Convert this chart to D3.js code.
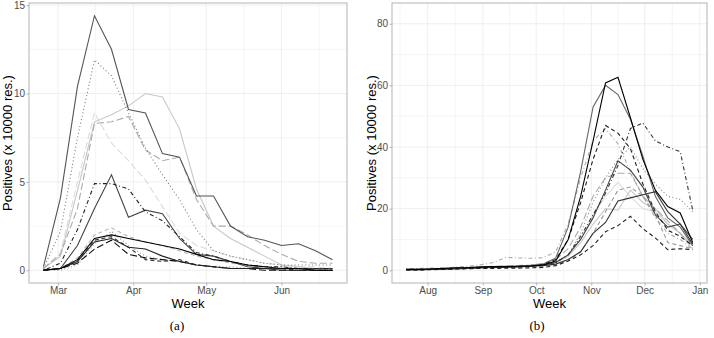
<!DOCTYPE html>
<html>
<head>
<meta charset="utf-8">
<script src="https://cdn.jsdelivr.net/npm/d3@7"></script>
<style>
  body { margin: 0; background: #fff; }
  svg { display: block; }
  .tick text { font-family: "Liberation Sans", Arial, sans-serif; font-size: 10px; fill: #4d4d4d; }
  .axis-title { font-family: "Liberation Sans", Arial, sans-serif; font-size: 13px; fill: #000; }
  .caption { font-family: "Liberation Serif", "DejaVu Serif", serif; font-size: 13px; font-weight: normal; fill: #000; }
</style>
</head>
<body>
<svg width="714" height="338"></svg>
<script>
// ---- data: panel (a), first wave ----
const weeksA = ['2020-02-24','2020-03-02','2020-03-09','2020-03-16','2020-03-23','2020-03-30',
  '2020-04-06','2020-04-13','2020-04-20','2020-04-27','2020-05-04','2020-05-11','2020-05-18',
  '2020-05-25','2020-06-01','2020-06-08','2020-06-15','2020-06-22'];
const monthTicksA = ['2020-03-01','2020-04-01','2020-05-01','2020-06-01'];
const yTicksA = [0, 5, 10, 15];

const a1 = [0.2, 4.1, 10.4, 14.4, 12.5, 9.1, 8.9, 6.6, 6.4, 4.2, 4.2, 2.5, 1.9, 1.7, 1.4, 1.5, 1.1, 0.6];
const a2 = [0.1, 2.2, 7.5, 11.9, 11.0, 8.9, 6.9, 5.4, 4.0, 2.3, 1.1, 0.8, 0.6, 0.4, 0.3, 0.3, 0.3, 0.3];
const a3 = [0.1, 0.8, 4.5, 8.4, 8.8, 9.3, 10.0, 9.8, 8.0, 4.6, 2.5, 1.8, 1.3, 0.8, 0.3, 0.2, 0.1, 0.1];
const a4 = [0.1, 0.9, 3.5, 8.3, 8.4, 8.7, 6.8, 6.2, 6.4, 4.0, 2.5, 2.5, 2.0, 1.4, 0.9, 0.5, 0.4, 0.4];
const a5 = [0.1, 1.0, 5.0, 8.9, 7.2, 6.2, 5.1, 3.6, 2.1, 1.4, 1.1, 0.8, 0.6, 0.4, 0.3, 0.2, 0.2, 0.1];
const a6 = [0.0, 0.1, 1.4, 3.5, 5.4, 3.0, 3.4, 3.2, 1.8, 0.9, 0.8, 0.5, 0.2, 0.1, 0.1, 0.1, 0.1, 0.1];
const a7 = [0.0, 0.4, 2.3, 4.9, 4.9, 4.6, 3.3, 2.8, 1.9, 1.0, 0.8, 0.5, 0.3, 0.2, 0.2, 0.1, 0.1, 0.1];
const a8 = [0.0, 0.1, 0.7, 2.0, 2.4, 1.9, 1.6, 1.4, 1.1, 0.8, 0.6, 0.4, 0.3, 0.2, 0.2, 0.1, 0.1, 0.1];
const a9 = [0.0, 0.1, 0.6, 1.8, 2.0, 1.8, 1.6, 1.4, 1.2, 0.9, 0.6, 0.5, 0.3, 0.2, 0.1, 0.1, 0.0, 0.0];
const a10 = [0.0, 0.1, 0.5, 1.6, 1.8, 1.3, 1.2, 0.8, 0.5, 0.3, 0.2, 0.1, 0.1, 0.1, 0.0, 0.0, 0.0, 0.0];
const a11 = [0.0, 0.1, 0.4, 1.2, 1.7, 0.9, 0.7, 0.6, 0.5, 0.3, 0.2, 0.1, 0.1, 0.0, 0.0, 0.0, 0.0, 0.0];
const a12 = [0.0, 0.0, 0.3, 1.5, 2.2, 1.4, 0.8, 0.6, 0.5, 0.3, 0.2, 0.2, 0.1, 0.1, 0.1, 0.0, 0.0, 0.0];
const a13 = [0.0, 0.1, 0.5, 1.7, 1.9, 1.3, 0.6, 0.5, 0.6, 0.3, 0.2, 0.1, 0.1, 0.1, 0.1, 0.0, 0.0, 0.0];

// ---- data: panel (b), second wave ----
const weeksB = ['2020-07-20','2020-07-27','2020-08-03','2020-08-10','2020-08-17','2020-08-24',
  '2020-08-31','2020-09-07','2020-09-14','2020-09-21','2020-09-28','2020-10-05','2020-10-12',
  '2020-10-19','2020-10-26','2020-11-02','2020-11-09','2020-11-16','2020-11-23','2020-11-30',
  '2020-12-07','2020-12-14','2020-12-21','2020-12-28'];
const monthTicksB = ['2020-08-01','2020-09-01','2020-10-01','2020-11-01','2020-12-01','2021-01-01'];
const yTicksB = [0, 20, 40, 60, 80];
const yMaxB = 82.6;

const b1 = [0.3,0.3,0.4,0.6,0.8,0.9,1.1,1.2,1.2,1.3,1.4,1.7,3.0,10,24,42,60.8,62.6,49.5,36,26,20.7,18.6,9];
const b2 = [0.2,0.3,0.4,0.5,0.7,0.9,1.0,1.2,1.3,1.4,1.6,2.0,4.0,14,32,53,60,57,49,37,24,17,14,8];
const b3 = [0.2,0.2,0.3,0.4,0.6,0.7,0.9,1.0,1.1,1.2,1.4,1.8,3.5,10,22,36,47,44.5,39.5,28,19,13,11,8];
const b4 = [0.3,0.3,0.4,0.5,0.6,0.8,0.9,1.0,1.2,1.3,1.5,1.8,2.5,5,11,18,25,34,46,47.8,42,40,38.5,19.5];
const b5 = [0.5,0.6,0.7,0.8,1.0,1.3,1.8,2.5,4.2,4.0,3.9,4.1,6.0,15,30,42,46,41,32,24,17,12,10,7];
const b6 = [0.2,0.3,0.3,0.4,0.5,0.6,0.7,0.9,1.0,1.1,1.3,1.6,2.5,5,12,22,30,36,40,33,28,24,23,19];
const b7 = [0.2,0.2,0.3,0.4,0.5,0.7,0.8,1.0,1.1,1.2,1.4,1.7,2.5,5,10,17,26,35.5,32.5,27,18,14,15,10];
const b8 = [0.2,0.2,0.3,0.4,0.5,0.6,0.8,0.9,1.0,1.1,1.3,1.5,2.0,3.5,6,12,15.5,22.5,23.5,24.5,25.5,19,15,8.5];
const b9 = [0.1,0.1,0.2,0.3,0.4,0.5,0.6,0.6,0.7,0.7,0.8,0.9,1.5,3,5,8,12.5,14.5,17.5,13.5,10.5,6.7,7,6.7];
const b10 = [0.3,0.3,0.4,0.5,0.6,0.8,1.0,1.1,1.2,1.3,1.5,1.9,2.5,4.5,9,15,20,19.5,26,22,20,15,12,8];
const b11 = [0.3,0.3,0.4,0.5,0.7,0.9,1.1,1.3,1.4,1.5,1.7,2.2,3.5,7,14,24,30,31.5,31.5,24,20,16,12,7];
const b12 = [0.2,0.2,0.3,0.4,0.5,0.6,0.7,0.8,0.9,1.0,1.1,1.3,1.8,3,6,12,19,26,27,24,18,9,8,7];
const b13 = [0.3,0.3,0.4,0.5,0.6,0.7,0.9,1.0,1.1,1.3,1.5,1.8,2.5,5,10,18,24,28.5,24,20,19,15,12,8];

// line looks, in drawing order
const dash = { solid: null, dashed: '4,3', dotted: '1,2.5', dotdash: '1,2.5,4,2.5', longdash: '7,3', twodash: '2,2,6,2' };

const seriesA = [
  { v: a5, c: '#dcdcdc', t: 'longdash' }, { v: a3, c: '#c8c8c8', t: 'solid' },
  { v: a4, c: '#ababab', t: 'longdash' }, { v: a8, c: '#b5b5b5', t: 'dashed' },
  { v: a12, c: '#999999', t: 'dotted' }, { v: a2, c: '#777777', t: 'dotted' },
  { v: a1, c: '#555555', t: 'solid' }, { v: a6, c: '#444444', t: 'solid' },
  { v: a7, c: '#222222', t: 'dotdash' }, { v: a13, c: '#333333', t: 'dashed' },
  { v: a11, c: '#111111', t: 'longdash' }, { v: a10, c: '#222222', t: 'solid' },
  { v: a9, c: '#000000', t: 'solid' }
];
const seriesB = [
  { v: b13, c: '#dddddd', t: 'solid' }, { v: b10, c: '#c8c8c8', t: 'solid' },
  { v: b5, c: '#aaaaaa', t: 'dotdash' }, { v: b11, c: '#ababab', t: 'longdash' },
  { v: b12, c: '#999999', t: 'dashed' }, { v: b6, c: '#888888', t: 'dotted' },
  { v: b2, c: '#666666', t: 'solid' }, { v: b7, c: '#444444', t: 'solid' },
  { v: b8, c: '#333333', t: 'solid' }, { v: b4, c: '#333333', t: 'dotdash' },
  { v: b9, c: '#222222', t: 'dashed' }, { v: b3, c: '#1a1a1a', t: 'dashed' },
  { v: b1, c: '#000000', t: 'solid' }
];

function whenLoaded(){

  const svg = d3.select('svg');
  const parse = d3.timeParse('%Y-%m-%d');

  const drawPanel = (box, weeks, series, monthTicks, yTicks, yMax, caption) => {
    const dates = weeks.map(parse);
    const innerWidth = box.x1 - box.x0;
    const innerHeight = box.y1 - box.y0;

    // ggplot style 5% expansion
    const xExt = d3.extent(dates);
    const xPad = (xExt[1] - xExt[0]) * 0.05;
    const xScale = d3.scaleTime()
      .domain([new Date(+xExt[0] - xPad), new Date(+xExt[1] + xPad)])
      .range([0, innerWidth]);

    const yTop = yMax != null ? yMax : d3.max(series, s => d3.max(s.v));
    const yScale = d3.scaleLinear()
      .domain([-0.05 * yTop, yTop * 1.05])
      .range([innerHeight, 0]);

    const g = svg.append('g')
      .attr('transform', `translate(${box.x0},${box.y0})`);

    // minor grid
    const mt = monthTicks.map(parse);
    const xMinor = [];
    for (let i = 0; i < mt.length - 1; i++) xMinor.push(new Date((+mt[i] + +mt[i + 1]) / 2));
    xMinor.unshift(new Date(+mt[0] - (mt[1] - mt[0]) / 2));
    xMinor.push(new Date(+mt[mt.length - 1] + (mt[1] - mt[0]) / 2));
    const yStep = yTicks[1] - yTicks[0];
    const yMinor = yTicks.map(t => t + yStep / 2);

    const grid = g.append('g').attr('stroke', '#ebebeb');
    grid.selectAll('.vminor').data(xMinor.filter(d => xScale(d) > 0 && xScale(d) < innerWidth))
      .enter().append('line')
      .attr('x1', d => xScale(d)).attr('x2', d => xScale(d))
      .attr('y1', 0).attr('y2', innerHeight).attr('stroke-width', 0.5);
    grid.selectAll('.hminor').data(yMinor.filter(d => yScale(d) > 0))
      .enter().append('line')
      .attr('y1', d => yScale(d)).attr('y2', d => yScale(d))
      .attr('x1', 0).attr('x2', innerWidth).attr('stroke-width', 0.5);
    grid.selectAll('.vmajor').data(mt)
      .enter().append('line')
      .attr('x1', d => xScale(d)).attr('x2', d => xScale(d))
      .attr('y1', 0).attr('y2', innerHeight).attr('stroke-width', 0.8);
    grid.selectAll('.hmajor').data(yTicks)
      .enter().append('line')
      .attr('y1', d => yScale(d)).attr('y2', d => yScale(d))
      .attr('x1', 0).attr('x2', innerWidth).attr('stroke-width', 0.8);

    // lines
    const line = d3.line()
      .x((d, i) => xScale(dates[i]))
      .y(d => yScale(d));

    g.selectAll('path.series').data(series)
      .enter()
      .append('path')
      .attr('class', 'series')
      .attr('d', s => line(s.v))
      .attr('fill', 'none')
      .attr('stroke', s => s.c)
      .attr('stroke-width', 1.1)
      .attr('stroke-dasharray', s => dash[s.t]);

    // border
    g.append('rect')
      .attr('width', innerWidth).attr('height', innerHeight)
      .attr('fill', 'none').attr('stroke', '#b3b3b3').attr('stroke-width', 1);

    // axes
    const monthFmt = d3.timeFormat('%b');
    const xAxis = d3.axisBottom(xScale).tickValues(mt).tickFormat(monthFmt)
      .tickSize(2.5).tickPadding(1.5);
    const xAxisG = g.append('g').call(xAxis)
      .attr('transform', `translate(0,${innerHeight})`);
    xAxisG.selectAll('.domain').remove();
    xAxisG.selectAll('.tick line').attr('stroke', '#b3b3b3');

    const yAxis = d3.axisLeft(yScale).tickValues(yTicks).tickSize(2.5).tickPadding(1.5);
    const yAxisG = g.append('g').call(yAxis);
    yAxisG.selectAll('.domain').remove();
    yAxisG.selectAll('.tick line').attr('stroke', '#b3b3b3');

    g.append('text')
      .attr('class', 'axis-title')
      .attr('x', innerWidth / 2)
      .attr('y', innerHeight + 25)
      .attr('text-anchor', 'middle')
      .text('Week');

    g.append('text')
      .attr('class', 'axis-title')
      .attr('transform', `translate(${box.yTitle - box.x0},${innerHeight / 2}) rotate(-90)`)
      .attr('text-anchor', 'middle')
      .text('Positives (x 10000 res.)');

    svg.append('text')
      .attr('class', 'caption')
      .attr('x', box.cap)
      .attr('y', 330)
      .attr('text-anchor', 'middle')
      .text(caption);
  };

  drawPanel({ x0: 29, x1: 347, y0: 3, y1: 283, yTitle: 12, cap: 177 },
    weeksA, seriesA, monthTicksA, yTicksA, null, '(a)');
  drawPanel({ x0: 392, x1: 707, y0: 3, y1: 283, yTitle: 376, cap: 537 },
    weeksB, seriesB, monthTicksB, yTicksB, yMaxB, '(b)');
}

window.onload = whenLoaded;
</script>
</body>
</html>
